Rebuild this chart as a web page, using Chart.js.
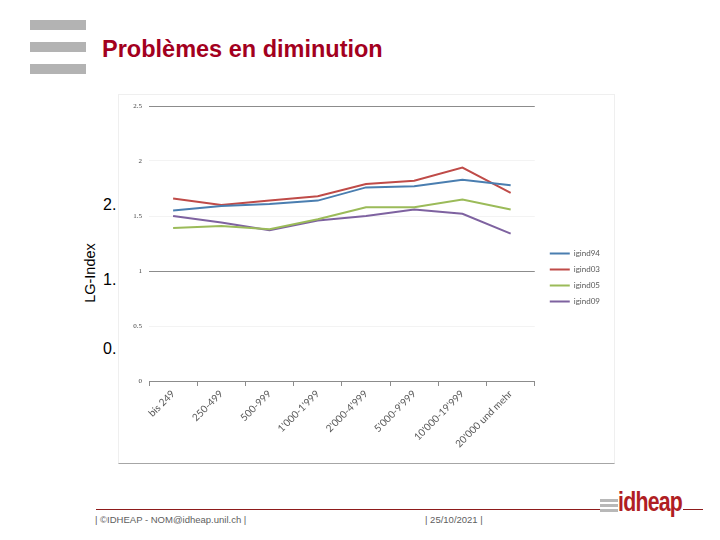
<!DOCTYPE html>
<html>
<head>
<meta charset="utf-8">
<script src="https://cdn.jsdelivr.net/npm/chart.js@4.4.1/dist/chart.umd.min.js"></script>
<style>
    body { margin: 0; width: 720px; height: 540px; background: #fff; position: relative; overflow: hidden; font-family: "Liberation Sans", Arial, sans-serif; }
    .bar { position: absolute; left: 30px; width: 56px; height: 10px; background: #b3b3b3; }
    #title { position: absolute; left: 102px; top: 36px; font-size: 23.5px; font-weight: bold; color: #a3001e; white-space: nowrap; }
    #frame { position: absolute; left: 118px; top: 94px; width: 495px; height: 368px; border: 1px solid #efefef; border-bottom: 1px solid #a6a6a6; }
    #chartBox { position: absolute; left: 118px; top: 92px; width: 496px; height: 371px; }
    .big { position: absolute; left: 103px; font-size: 16px; color: #000; }
    #ylab { position: absolute; left: 59px; top: 265px; width: 62px; text-align: center; font-size: 14.5px; color: #000; transform: rotate(-90deg); transform-origin: 31px 8px; }
    #footLine { position: absolute; left: 96px; top: 509px; width: 504px; height: 1px; background: #8e1b1b; }
    #logoLine { position: absolute; left: 683px; top: 509px; width: 20px; height: 1px; background: #8e1b1b; }
    .foot { position: absolute; top: 514px; font-size: 9.5px; color: #606060; white-space: nowrap; }
    .lbar { position: absolute; left: 600px; width: 18px; height: 3px; background: #b8b8b8; }
    #logo { position: absolute; left: 618px; top: 486px; font-size: 28px; font-weight: bold; color: #b01e23; transform: scaleX(0.76); transform-origin: 0 0; letter-spacing: -1px; }
</style>
</head>
<body>
<div class="bar" style="top:20px"></div>
<div class="bar" style="top:42px"></div>
<div class="bar" style="top:64px"></div>
<div id="title">Problèmes en diminution</div>

<div id="frame"></div>
<div id="chartBox"><canvas id="myChart" width="496" height="371"></canvas></div>

<div id="ylab">LG-Index</div>
<div class="big" style="top:196px">2.</div>
<div class="big" style="top:271px">1.</div>
<div class="big" style="top:340px">0.</div>

<div id="footLine"></div>
<div id="logoLine"></div>
<div class="foot" style="left:95px">| ©IDHEAP - NOM@idheap.unil.ch |</div>
<div class="foot" style="left:425px">| 25/10/2021 |</div>
<div class="lbar" style="top:499px"></div>
<div class="lbar" style="top:504px"></div>
<div class="lbar" style="top:509px"></div>
<div id="logo">idheap</div>

<script>
    const categories = ["bis 249", "250-499", "500-999", "1'000-1'999", "2'000-4'999", "5'000-9'999", "10'000-19'999", "20'000 und mehr"];
    const seriesNames = ["igind94", "igind03", "igind05", "igind09"];
    const igind94 = [1.55, 1.59, 1.61, 1.64, 1.76, 1.77, 1.83, 1.78];
    const igind03 = [1.66, 1.60, 1.64, 1.68, 1.79, 1.82, 1.94, 1.71];
    const igind05 = [1.39, 1.41, 1.38, 1.47, 1.58, 1.58, 1.65, 1.56];
    const igind09 = [1.50, 1.44, 1.37, 1.46, 1.50, 1.56, 1.52, 1.34];
    const yTicks = [0, 0.5, 1, 1.5, 2, 2.5];
    const lineColors = ["#4a7eb0", "#bf4b48", "#9bbb59", "#7e62a0"];

    const seriesData = [igind94, igind03, igind05, igind09];
    const darkGrid = [0, 1, 2.5];

    new Chart("myChart", {
        type: "line",
        data: {
            labels: categories,
            datasets: seriesData.map((d, i) => ({
                label: seriesNames[i],
                data: d,
                borderColor: lineColors[i],
                backgroundColor: lineColors[i],
                borderWidth: 2,
                pointRadius: 0,
                tension: 0
            }))
        },
        options: {
            responsive: false,
            animation: false,
            layout: { padding: { top: 14, bottom: 14, right: 4 } },
            plugins: {
                tooltip: { enabled: false },
                legend: {
                    position: "right",
                    align: "center",
                    labels: {
                        usePointStyle: true,
                        pointStyle: "line",
                        pointStyleWidth: 20,
                        boxHeight: 8,
                        padding: 8,
                        color: "#595959",
                        font: { family: "Lato", size: 8 }
                    }
                }
            },
            scales: {
                x: {
                    offset: true,
                    afterFit: (s) => { s.height = 68; },
                    grid: { offset: true, drawOnChartArea: false, drawTicks: true, tickLength: 5, color: "#8c8c8c" },
                    border: { color: "#8c8c8c" },
                    ticks: { minRotation: 45, maxRotation: 45, padding: 2, color: "#595959", font: { family: "Lato", size: 10 } }
                },
                y: {
                    min: 0,
                    max: 2.5,
                    afterFit: (s) => { s.width = 31; },
                    afterBuildTicks: (s) => { s.ticks = yTicks.map(v => ({ value: v })); },
                    border: { display: false },
                    grid: {
                        drawTicks: false,
                        color: (ctx) => darkGrid.includes(ctx.tick.value) ? "#8c8c8c" : "#f3f3f3"
                    },
                    ticks: {
                        padding: 7,
                        color: "#444",
                        font: { family: "Liberation Serif", size: 7 },
                        callback: (v) => String(v)
                    }
                },
                // empty spacer between plot and legend
                gap: {
                    type: "linear",
                    position: "right",
                    afterFit: (s) => { s.width = 7; },
                    grid: { display: false },
                    border: { display: false },
                    ticks: { display: false }
                }
            }
        }
    });
</script>
</body>
</html>
